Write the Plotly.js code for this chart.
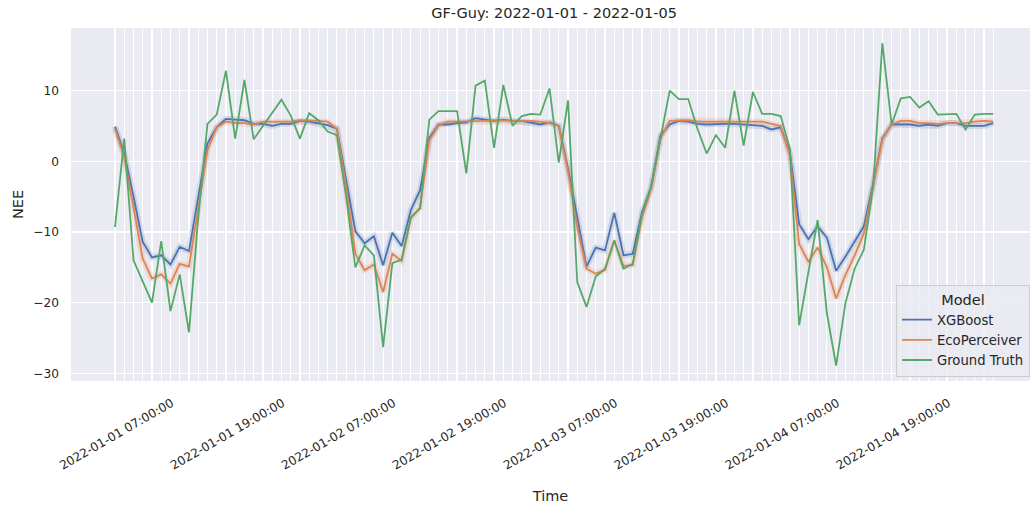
<!DOCTYPE html>
<html>
<head>
<meta charset="utf-8">
<script src="https://cdn.plot.ly/plotly-3.0.1.min.js"></script>
<style>html,body{margin:0;padding:0;background:#fff;}#chart{width:1030px;height:510px;}</style>
</head>
<body>
<div id="chart"></div>
<script>
// ---- data ----
const startTime = '2022-01-01 00:00:00';
const nHours = 96;
const xLabels = ['2022-01-01 07:00:00','2022-01-01 19:00:00','2022-01-02 07:00:00','2022-01-02 19:00:00',
                 '2022-01-03 07:00:00','2022-01-03 19:00:00','2022-01-04 07:00:00','2022-01-04 19:00:00'];
const seriesNames = ['XGBoost','EcoPerceiver','Ground Truth'];
const xgboost = [4.9,1.1,-5.0,-11.4,-13.6,-13.3,-14.6,-12.1,-12.7,-5.1,2.5,4.8,6.0,5.9,5.8,5.3,5.3,5.0,5.3,5.3,5.7,5.6,5.3,5.1,
  4.6,-2.7,-9.9,-11.6,-10.6,-14.7,-10.1,-12.0,-6.9,-4.1,3.3,5.2,5.2,5.4,5.5,6.1,5.9,5.7,5.9,5.7,5.7,5.5,5.2,5.5,
  5.0,-1.0,-8.0,-14.9,-12.2,-12.6,-7.3,-13.3,-13.1,-7.2,-3.6,3.7,5.2,5.7,5.6,5.3,5.2,5.3,5.3,5.3,5.2,5.0,5.0,4.5,
  4.8,1.2,-8.9,-11.0,-9.2,-10.8,-15.5,-13.5,-11.4,-9.2,-3.2,3.2,5.2,5.2,5.2,5.0,5.2,5.0,5.4,5.4,5.0,5.0,5.0,5.4];
const ecoPerceiver = [4.6,0.6,-6.5,-13.8,-16.6,-16.0,-17.3,-14.5,-14.9,-6.6,1.6,4.8,5.6,5.4,5.4,5.2,5.6,5.6,5.6,5.6,5.8,5.8,5.7,5.6,
  4.6,-3.6,-13.1,-15.4,-14.6,-18.5,-13.1,-14.1,-8.1,-6.5,3.0,5.1,5.6,5.6,5.6,5.7,5.7,5.8,5.8,5.8,5.8,5.7,5.6,5.4,
  5.0,-1.5,-9.3,-15.2,-15.9,-15.4,-11.2,-14.8,-14.7,-7.9,-3.9,3.2,5.7,5.8,5.8,5.6,5.6,5.7,5.7,5.7,5.7,5.6,5.6,5.3,
  5.0,0.8,-11.7,-14.2,-12.2,-15.0,-19.4,-16.1,-13.3,-10.2,-3.6,3.1,5.2,5.7,5.7,5.4,5.4,5.3,5.4,5.4,5.4,5.6,5.7,5.6];
const groundTruth = [-9.3,3.2,-14.0,-17.0,-20.0,-11.3,-21.2,-16.0,-24.2,-8.0,5.3,6.6,12.8,3.2,11.5,3.1,5.0,6.8,8.7,6.5,3.2,6.8,5.8,4.2,
  3.7,-5.0,-15.0,-11.9,-13.3,-26.3,-14.4,-13.9,-7.9,-6.7,5.9,7.1,7.1,7.1,-1.7,10.7,11.4,1.9,10.8,5.0,6.4,6.7,6.6,10.3,
  -0.2,8.6,-17.1,-20.6,-16.3,-15.2,-11.2,-15.2,-14.5,-7.5,-3.5,3.5,10.0,8.8,8.8,4.6,1.1,3.7,1.9,10.0,2.2,9.8,6.7,6.7,
  6.4,1.8,-23.2,-15.7,-8.3,-21.5,-28.9,-20.1,-15.2,-12.5,-3.6,16.7,5.2,8.9,9.1,7.6,8.5,6.6,6.6,6.7,4.5,6.6,6.7,6.7];
const yTicks = [-30,-20,-10,0,10];

// ---- build ----
function fmt(d){
  const p = n => String(n).padStart(2,'0');
  return d.getUTCFullYear()+'-'+p(d.getUTCMonth()+1)+'-'+p(d.getUTCDate())+' '+p(d.getUTCHours())+':'+p(d.getUTCMinutes())+':'+p(d.getUTCSeconds());
}
const t0 = Date.parse(startTime.replace(' ','T')+'Z');
const H = 3600000;
const times = [];
for (let i = 0; i < nHours; i++) times.push(fmt(new Date(t0 + i*H)));
const ticktext = times.map(t => xLabels.includes(t) ? t : '');
const xRange = [fmt(new Date(t0 - 4.76*H)), fmt(new Date(t0 + 98.97*H))];

const colors = ['#4c72b0','#dd8452','#55a868'];
const series = [xgboost, ecoPerceiver, groundTruth];
const FONT = 'DejaVu Sans, sans-serif';
const TXT = '#262626';

const traces = [];
// faint confidence halo around model predictions
[0,1].forEach(k => traces.push({
  x: times, y: series[k], type: 'scatter', mode: 'lines',
  line: {color: colors[k], width: 6}, opacity: 0.18,
  showlegend: false, hoverinfo: 'skip'
}));
series.forEach((s,k) => traces.push({
  x: times, y: s, type: 'scatter', mode: 'lines', name: seriesNames[k],
  line: {color: colors[k], width: 1.8}
}));

const layout = {
  width: 1030, height: 510,
  margin: {l: 71, r: 0, t: 28, b: 129, pad: 0},
  paper_bgcolor: '#ffffff', plot_bgcolor: '#eaeaf2',
  font: {family: FONT, color: TXT, size: 12},
  title: {text: 'GF-Guy: 2022-01-01 - 2022-01-05', font: {family: FONT, size: 14.5, color: TXT},
          x: 0.5037, xref: 'paper', xanchor: 'center', y: 0.974, yref: 'container', yanchor: 'middle'},
  xaxis: {
    type: 'date', range: xRange, autorange: false,
    tickmode: 'array', tickvals: times, ticktext: ticktext, tickangle: -30,
    showgrid: true, gridcolor: '#ffffff', gridwidth: 1.2, zeroline: false, showline: false,
    ticks: '', ticklabelstandoff: 12, ticklabelshift: -8, automargin: false,
    tickfont: {family: FONT, size: 12.2, color: TXT},
    title: {text: 'Time', font: {family: FONT, size: 14.5, color: TXT}, standoff: 19}
  },
  yaxis: {
    range: [-31.08, 18.85], autorange: false,
    tickmode: 'array', tickvals: yTicks,
    showgrid: true, gridcolor: '#ffffff', gridwidth: 1.2, zeroline: false, showline: false,
    ticks: '', ticklabelstandoff: 11, automargin: false,
    tickfont: {family: FONT, size: 12.2, color: TXT},
    title: {text: 'NEE', font: {family: FONT, size: 14.5, color: TXT}, standoff: 6}
  },
  showlegend: true,
  legend: {
    x: 1, xanchor: 'right', xref: 'paper', y: 0.012, yanchor: 'bottom', yref: 'paper',
    bgcolor: 'rgba(234,234,242,0.8)', bordercolor: '#cccccc', borderwidth: 1,
    font: {family: FONT, size: 13.2, color: TXT},
    title: {text: 'Model', side: 'top center', font: {family: FONT, size: 14.5, color: TXT}},
    tracegroupgap: 0, itemwidth: 30
  }
};

Plotly.newPlot('chart', traces, layout, {displayModeBar: false, staticPlot: true});
</script>
</body>
</html>
